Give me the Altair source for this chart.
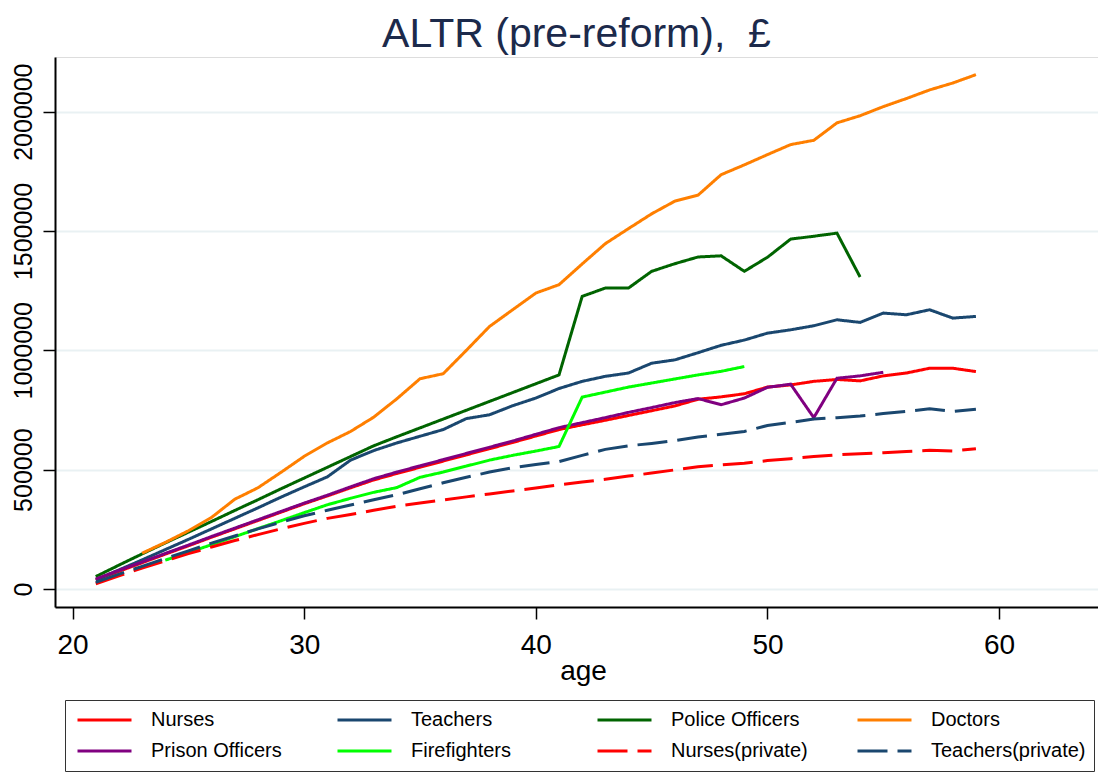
import altair as alt
import pandas as pd

FONT = "Liberation Sans"

series_names = ["Nurses", "Teachers", "Police Officers", "Doctors",
                "Prison Officers", "Firefighters", "Nurses(private)", "Teachers(private)"]
series_colors = ["#ff0000", "#1a476f", "#006400", "#ff7f00",
                 "#800080", "#00ff00", "#ff0000", "#1a476f"]
series_dashes = [[1, 0], [1, 0], [1, 0], [1, 0], [1, 0], [1, 0], [30, 10], [30, 10]]

# first age of each series (consecutive ages follow)
start_ages = [21, 21, 21, 23, 21, 24, 21, 21]

nurses = [38, 74, 110, 146, 181, 217, 252, 287, 322, 357, 390, 424, 457, 484, 510, 536,
          562, 588, 614, 641, 668, 688, 707, 727, 747, 767, 795, 805, 818, 846, 855, 870,
          878, 872, 893, 905, 925, 925, 911]
teachers = [38, 80, 122, 165, 208, 252, 296, 340, 385, 428, 470, 540, 580, 612, 640, 668,
            714, 730, 768, 800, 840, 870, 891, 905, 946, 960, 990, 1021, 1043, 1072, 1086,
            1103, 1128, 1117, 1156, 1149, 1170, 1135, 1142]
police = [52, 100, 147, 193, 238, 283, 329, 374, 420, 465, 510, 555, 600, 638, 675, 712,
          749, 786, 823, 860, 897, 1226, 1261, 1261, 1331, 1363, 1391, 1396, 1331, 1390,
          1466, 1478, 1491, 1307]
doctors = [150, 195, 244, 300, 376, 424, 489, 556, 612, 660, 720, 797, 881, 902, 1000,
           1100, 1170, 1240, 1275, 1362, 1447, 1510, 1572, 1625, 1650, 1736, 1777, 1820,
           1862, 1880, 1953, 1983, 2021, 2055, 2091, 2120, 2155]
prison = [42, 78, 113, 149, 184, 220, 255, 290, 325, 360, 393, 428, 462, 490, 516, 542,
          568, 594, 620, 648, 676, 697, 718, 740, 760, 781, 798, 772, 800, 845, 858, 718,
          883, 893, 908]
firefighters = [121, 152, 186, 219, 253, 286, 320, 353, 380, 405, 425, 468, 490, 515, 540,
                560, 578, 597, 804, 825, 846, 863, 880, 897, 912, 932]
nurses_private = [22, 55, 88, 118, 148, 176, 203, 228, 252, 275, 296, 312, 330, 347, 360,
                  373, 386, 398, 411, 423, 436, 448, 460, 473, 486, 499, 512, 520, 527, 538,
                  546, 555, 562, 567, 571, 576, 581, 578, 588]
teachers_private = [28, 62, 95, 128, 160, 192, 222, 252, 280, 307, 330, 352, 374, 395, 420,
                    445, 468, 490, 508, 522, 534, 560, 585, 600, 610, 622, 637, 648, 660, 685,
                    698, 712, 718, 725, 735, 744, 755, 744, 753]

series_values = [nurses, teachers, police, doctors, prison, firefighters,
                 nurses_private, teachers_private]

x_ticks = [20, 30, 40, 50, 60]
y_ticks = [0, 500000, 1000000, 1500000, 2000000]

rows = []
for si, (name, start, vals) in enumerate(zip(series_names, start_ages, series_values)):
    for i, v in enumerate(vals):
        rows.append({"series": name, "order": si, "age": start + i, "value": v * 1000})
df = pd.DataFrame(rows)

legend_def = alt.Legend(
    title=None, orient="none", legendX=10, legendY=643, columns=4, direction="horizontal",
    gridAlign="all", columnPadding=27, rowPadding=7, clipHeight=24, padding=8,
    symbolType="stroke", symbolSize=2916, symbolStrokeWidth=3, symbolOffset=3,
    labelFont=FONT, labelFontSize=20, labelColor="black", labelOffset=18, labelLimit=300,
    strokeColor="#333333", fillColor="white",
)

chart = alt.Chart(df).mark_line(strokeWidth=3, clip=True).encode(
    x=alt.X("age:Q",
            scale=alt.Scale(domain=[19.24, 64.27], nice=False, zero=False),
            axis=alt.Axis(values=x_ticks, title="age", format="d",
                          labelFont=FONT, labelFontSize=28, labelColor="black",
                          labelPadding=12, labelFlush=False, labelOverlap=False,
                          tickSize=12, tickWidth=1.5, tickColor="black",
                          domainColor="black", domainWidth=2, grid=False,
                          titleFont=FONT, titleFontSize=28, titleFontWeight="normal",
                          titleColor="black", titleBaseline="alphabetic", titleY=72,
                          titleX=528)),
    y=alt.Y("value:Q",
            scale=alt.Scale(domain=[-75400, 2229000], nice=False, zero=False),
            axis=alt.Axis(values=y_ticks, title=None, format="d",
                          labelFont=FONT, labelFontSize=25, labelColor="black",
                          labelAngle=270, labelAlign="center", labelBaseline="alphabetic",
                          labelPadding=12, labelFlush=False, labelOverlap=False,
                          tickSize=12, tickWidth=1.5, tickColor="black",
                          domainColor="black", domainWidth=2,
                          grid=True, gridColor="#e9f1f3", gridWidth=2)),
    color=alt.Color("series:N", scale=alt.Scale(domain=series_names, range=series_colors),
                    legend=legend_def),
    strokeDash=alt.StrokeDash("series:N",
                              scale=alt.Scale(domain=series_names, range=series_dashes),
                              legend=legend_def),
).properties(
    width=1043, height=550,
    padding={"left": 47, "top": 49, "right": 0, "bottom": 165},
    autosize=alt.AutoSizeParams(type="none"),
    title=alt.TitleParams("ALTR (pre-reform),\u00a0 £", font=FONT, fontSize=41,
                          fontWeight="normal", color="#1c2a4b", anchor="middle",
                          baseline="alphabetic", offset=-31),
).configure_view(strokeWidth=0).configure(background="white")

chart.save("out.html", embed_options={"renderer": "svg", "actions": False})
